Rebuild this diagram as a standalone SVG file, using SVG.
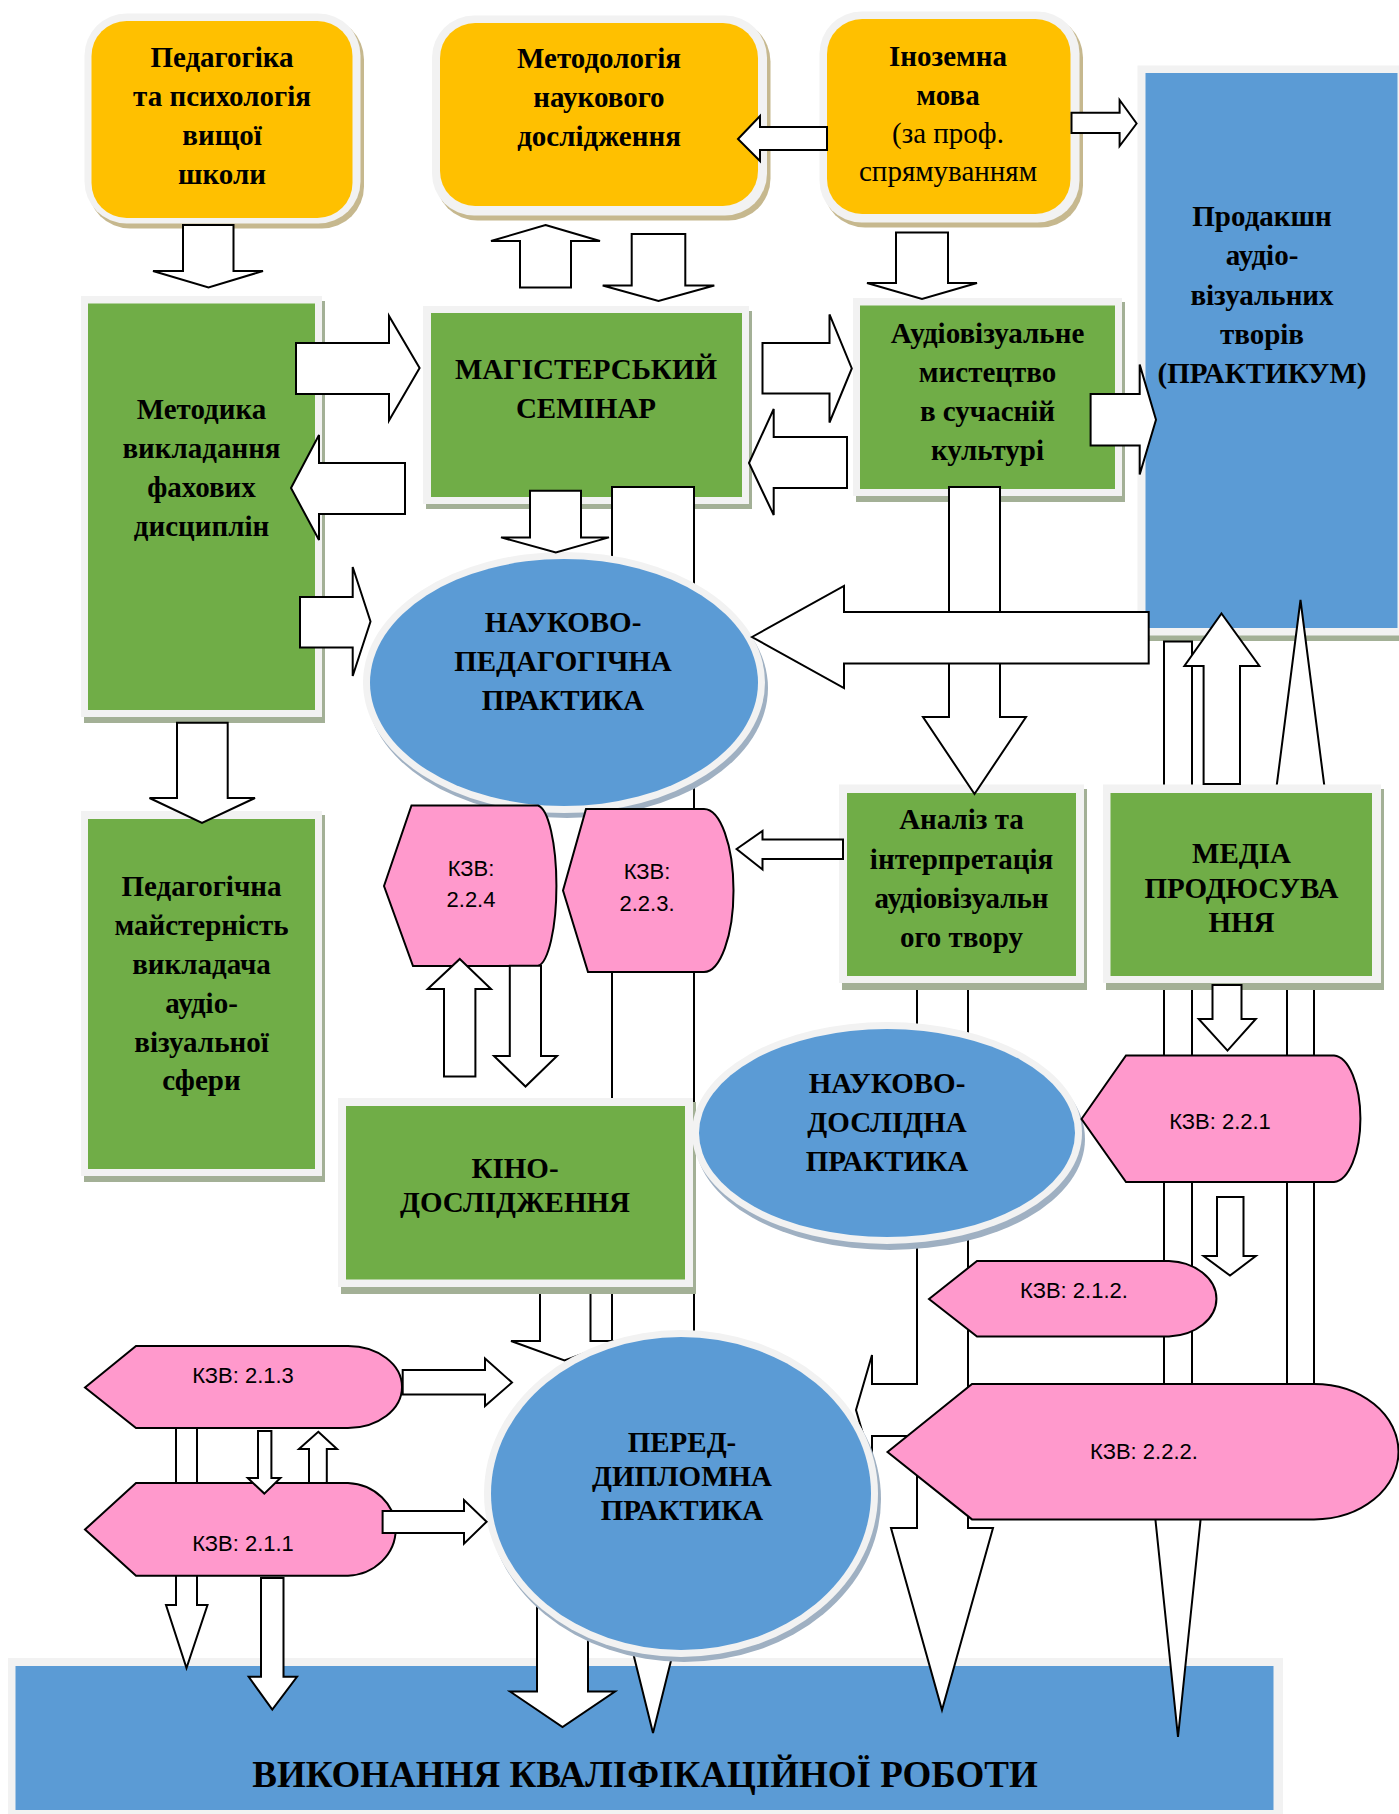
<svg xmlns="http://www.w3.org/2000/svg" width="1399" height="1814" viewBox="0 0 1399 1814">
<style>
.a{fill:#fff;stroke:#000;stroke-width:2;stroke-linejoin:miter}
.p{fill:#FF99CC;stroke:#000;stroke-width:2}
.t{font-family:"Liberation Serif","Times New Roman",serif;font-weight:bold;font-size:29px;text-anchor:middle;fill:#000}
.n{font-weight:normal}
.k{font-family:"Liberation Sans",Arial,sans-serif;font-size:22px;text-anchor:middle;fill:#000}
.or{fill:#FFC000}.orf{fill:#F2F2F2}.ors{fill:#C6B88E}
.gr{fill:#70AD47}.fr{fill:#F2F2F2}.gs{fill:#A3B096}
.bl{fill:#5B9BD5}.bs{fill:#9FB0C2}
</style>
<rect width="1399" height="1814" fill="#fff"/>

<g id="prodakshn">
<rect x="1141" y="69" width="258" height="572" class="gs"/>
<rect x="1137.5" y="65.5" width="261.5" height="570" class="fr"/>
<rect x="1145.5" y="73" width="252" height="555" class="bl"/>
<text class="t" x="1262"><tspan x="1262" y="226">Продакшн</tspan><tspan x="1262" y="265">аудіо-</tspan><tspan x="1262" y="304.5">візуальних</tspan><tspan x="1262" y="343.5">творів</tspan><tspan x="1262" y="383">(ПРАКТИКУМ)</tspan></text>
</g>

<g id="vykonannia">
<rect x="8" y="1658" width="1275" height="156" class="fr"/>
<rect x="15.5" y="1666" width="1258" height="144" class="bl"/>
<text class="t" x="645" y="1787" style="font-size:37px">ВИКОНАННЯ КВАЛІФІКАЦІЙНОЇ РОБОТИ</text>
</g>

<g id="pedagogika">
<rect x="88" y="17.5" width="276" height="211" rx="42" class="ors"/>
<rect x="84.5" y="13.5" width="276" height="210" rx="42" class="orf"/>
<rect x="91.5" y="21" width="261" height="197" rx="35" class="or"/>
<text class="t"><tspan x="222" y="67">Педагогіка</tspan><tspan x="222" y="106">та психологія</tspan><tspan x="222" y="145">вищої</tspan><tspan x="222" y="184">школи</tspan></text>
</g>

<g id="metodologiia">
<rect x="435.5" y="19.5" width="335" height="201" rx="42" class="ors"/>
<rect x="432" y="15.5" width="335" height="200" rx="42" class="orf"/>
<rect x="440" y="23" width="318" height="183" rx="35" class="or"/>
<text class="t"><tspan x="599" y="68">Методологія</tspan><tspan x="599" y="107">наукового</tspan><tspan x="599" y="146">дослідження</tspan></text>
</g>

<g id="inozemna">
<rect x="823" y="15.5" width="260" height="212" rx="42" class="ors"/>
<rect x="819.5" y="11.5" width="260" height="211" rx="42" class="orf"/>
<rect x="827" y="19" width="243.5" height="195" rx="35" class="or"/>
<text class="t"><tspan x="948" y="65.5">Іноземна</tspan><tspan x="948" y="104.5">мова</tspan><tspan class="n" x="948" y="143">(за проф.</tspan><tspan class="n" x="948" y="181">спрямуванням</tspan></text>
</g>

<g id="mag-seminar">
<rect x="426" y="311" width="326" height="198" class="gs"/>
<rect x="423" y="306" width="326" height="198" class="fr"/>
<rect x="431" y="313" width="311" height="184" class="gr"/>
<text class="t"><tspan x="586" y="379">МАГІСТЕРСЬКИЙ</tspan><tspan x="586" y="418">СЕМІНАР</tspan></text>
</g>

<g id="metodyka">
<rect x="84" y="301" width="241" height="422" class="gs"/>
<rect x="81" y="296" width="241" height="421" class="fr"/>
<rect x="88" y="303.5" width="227" height="406.5" class="gr"/>
<text class="t"><tspan x="201.5" y="418.5">Методика</tspan><tspan x="201.5" y="458">викладання</tspan><tspan x="201.5" y="497">фахових</tspan><tspan x="201.5" y="536">дисциплін</tspan></text>
</g>

<g id="audiovizualne">
<rect x="856" y="302" width="269" height="200" class="gs"/>
<rect x="853" y="298" width="269" height="198" class="fr"/>
<rect x="860" y="305.5" width="255" height="183.5" class="gr"/>
<text class="t"><tspan x="987.5" y="342.5">Аудіовізуальне</tspan><tspan x="987.5" y="382">мистецтво</tspan><tspan x="987.5" y="421">в сучасній</tspan><tspan x="987.5" y="460">культурі</tspan></text>
</g>

<g id="connectors-under">
<polygon class="a" points="612,487 694,487 694,1500 711,1500 653,1733 595,1500 612,1500"/>
<polygon class="a" points="1164,641.5 1192,641.5 1192,1400 1213,1400 1178,1737 1143,1400 1164,1400"/>
<polygon class="a" points="1287,1450 1314,1450 1314,873 1335.5,873 1300.5,600 1265.5,873 1287,873"/>
<polygon class="a" points="917,987 968,987 968,1528 993,1528 942,1710 891,1528 917,1528 917,1436 872,1436 872,1465 856,1410 872,1355 872,1384 917,1384"/>
<polygon class="a" points="537,1600 588,1600 588,1691.5 615,1691.5 562.5,1727 510,1691.5 537,1691.5"/>
<polygon class="a" points="540,1287 590.5,1287 590.5,1341 618,1341 564.5,1360.5 511,1341 540,1341"/>
<polygon class="a" points="176,1418 197,1418 197,1605 207.5,1605 186.5,1668 166,1605 176,1605"/>
</g>

<g id="nauk-ped">
<ellipse cx="567" cy="688" rx="201" ry="130" class="bs"/>
<ellipse cx="564" cy="682.5" rx="201" ry="130.5" class="fr"/>
<ellipse cx="564" cy="682.5" rx="194" ry="123.5" class="bl"/>
<text class="t"><tspan x="563" y="632">НАУКОВО-</tspan><tspan x="563" y="671">ПЕДАГОГІЧНА</tspan><tspan x="563" y="710">ПРАКТИКА</tspan></text>
</g>

<g id="ped-maisternist">
<rect x="84" y="815" width="241" height="367" class="gs"/>
<rect x="81" y="811" width="241" height="365" class="fr"/>
<rect x="88" y="819" width="227" height="350" class="gr"/>
<text class="t"><tspan x="201.5" y="896">Педагогічна</tspan><tspan x="201.5" y="935">майстерність</tspan><tspan x="201.5" y="974">викладача</tspan><tspan x="201.5" y="1013">аудіо-</tspan><tspan x="201.5" y="1051.5">візуальної</tspan><tspan x="201.5" y="1090">сфери</tspan></text>
</g>

<g id="analiz">
<rect x="842" y="789" width="245" height="201" class="gs"/>
<rect x="839" y="784.5" width="245" height="198.5" class="fr"/>
<rect x="847" y="793" width="229" height="183" class="gr"/>
<text class="t"><tspan x="961.5" y="829">Аналіз та</tspan><tspan x="961.5" y="868.5">інтерпретація</tspan><tspan x="961.5" y="907.5">аудіовізуальн</tspan><tspan x="961.5" y="946.5">ого твору</tspan></text>
</g>

<g id="media">
<rect x="1106" y="789" width="278" height="201" class="gs"/>
<rect x="1103" y="784.5" width="278" height="198.5" class="fr"/>
<rect x="1110.5" y="793" width="261.5" height="183" class="gr"/>
<text class="t"><tspan x="1241.5" y="863">МЕДІА</tspan><tspan x="1241.5" y="897.5">ПРОДЮСУВА</tspan><tspan x="1241.5" y="931.5">ННЯ</tspan></text>
</g>

<g id="kino">
<rect x="341" y="1102" width="355" height="192" class="gs"/>
<rect x="338" y="1098" width="355" height="189" class="fr"/>
<rect x="346" y="1106" width="339" height="173.5" class="gr"/>
<text class="t"><tspan x="515" y="1178">КІНО-</tspan><tspan x="515" y="1212">ДОСЛІДЖЕННЯ</tspan></text>
</g>

<g id="nauk-dosl">
<ellipse cx="890" cy="1139" rx="195" ry="111" class="bs"/>
<ellipse cx="887" cy="1133" rx="195" ry="111" class="fr"/>
<ellipse cx="887" cy="1133" rx="188" ry="104" class="bl"/>
<text class="t"><tspan x="887" y="1093">НАУКОВО-</tspan><tspan x="887" y="1132">ДОСЛІДНА</tspan><tspan x="887" y="1170.5">ПРАКТИКА</tspan></text>
</g>

<g id="pered-dyplomna">
<ellipse cx="684" cy="1499" rx="197" ry="163" class="bs"/>
<ellipse cx="681" cy="1493.5" rx="197" ry="163.5" class="fr"/>
<ellipse cx="681" cy="1493.5" rx="190" ry="156.5" class="bl"/>
<text class="t"><tspan x="682" y="1452">ПЕРЕД-</tspan><tspan x="682" y="1486">ДИПЛОМНА</tspan><tspan x="682" y="1520">ПРАКТИКА</tspan></text>
</g>

<g id="kzv-224">
<path class="p" d="M384,886 L411.5,805.5 L538,805.5 A20,80.5 0 0 1 538,966 L413,966 Z"/>
<text class="k"><tspan x="471" y="876">КЗВ:</tspan><tspan x="471" y="907">2.2.4</tspan></text>
</g>

<g id="kzv-223">
<path class="p" d="M563,890.5 L586,809 L704,809 A29.5,81.5 0 0 1 704,972 L588,972 Z"/>
<text class="k"><tspan x="647" y="879">КЗВ:</tspan><tspan x="647" y="910.5">2.2.3.</tspan></text>
</g>

<g id="kzv-221">
<path class="p" d="M1081.5,1119 L1126,1055.5 L1334,1055.5 A27.5,63.3 0 0 1 1334,1182 L1126,1182 Z"/>
<text class="k" x="1220" y="1129">КЗВ: 2.2.1</text>
</g>

<g id="kzv-212">
<path class="p" d="M929,1299 L977,1261 L1169,1261 A50,37.8 0 0 1 1169,1336.5 L977,1336.5 Z"/>
<text class="k" x="1074" y="1298">КЗВ: 2.1.2.</text>
</g>

<g id="kzv-222">
<path class="p" d="M887.5,1452 L972,1384 L1314,1384 A84.5,67.7 0 0 1 1314,1519.4 L972,1519.4 Z"/>
<text class="k" x="1144" y="1459">КЗВ: 2.2.2.</text>
</g>

<g id="kzv-213">
<path class="p" d="M85,1387.5 L136,1346 L348,1346 A54,41 0 0 1 348,1428 L136,1428 Z"/>
<text class="k" x="243" y="1382.5">КЗВ: 2.1.3</text>
</g>

<g id="kzv-211">
<path class="p" d="M85,1529.5 L136,1483 L348,1483 A50,46.4 0 0 1 348,1575.7 L136,1575.7 Z"/>
<text class="k" x="243" y="1551">КЗВ: 2.1.1</text>
</g>

<g id="connectors">
<polygon class="a" points="183,225 233.5,225 233.5,271 263,271 208.5,287.5 153,271 183,271"/>
<polygon class="a" points="545.5,225 600,241 571,241 571,287.5 520,287.5 520,241 491,241"/>
<polygon class="a" points="631.7,234 685.3,234 685.3,285.5 714.3,285.5 658.5,301 602.7,285.5 631.7,285.5"/>
<polygon class="a" points="738,139 760,116 760,127 827,127 827,150 760,150 760,161"/>
<polygon class="a" points="1071.5,112.7 1119.6,112.7 1119.6,100 1136.6,123.5 1119.6,146 1119.6,133 1071.5,133"/>
<polygon class="a" points="896,232.6 948,232.6 948,283 977,283 922,299 867,283 896,283"/>
<polygon class="a" points="296,343 389,343 389,316 419.6,368 389,420.5 389,394 296,394"/>
<polygon class="a" points="291,488 319,435 319,463 405,463 405,514 319,514 319,540"/>
<polygon class="a" points="300,597 352.7,597 352.7,567 370.5,621.5 352.7,676 352.7,647.5 300,647.5"/>
<polygon class="a" points="762.5,343 829.5,343 829.5,314.4 851.8,368.4 829.5,422.5 829.5,393.5 762.5,393.5"/>
<polygon class="a" points="749,463 773.7,409 773.7,437 847,437 847,488 773.7,488 773.7,515"/>
<polygon class="a" points="1090.6,394 1139.7,394 1139.7,364.6 1156,419.7 1139.7,474.5 1139.7,445.6 1090.6,445.6"/>
<polygon class="a" points="530,490.7 581,490.7 581,537.4 609,537.4 555.8,552.5 501,537.4 530,537.4"/>
<polygon class="a" points="949,487 1000,487 1000,717 1026,717 974.5,794 923,717 949,717"/>
<polygon class="a" points="752,637 844,586 844,612 1148.7,612 1148.7,663.6 844,663.6 844,688"/>
<polygon class="a" points="736.6,849 762.5,831 762.5,839.6 843,839.6 843,859 762.5,859 762.5,869.5"/>
<polygon class="a" points="1221.5,613.5 1259.4,666 1240,666 1240,784 1203.6,784 1203.6,666 1184.4,666"/>
<polygon class="a" points="1212.5,985 1241.5,985 1241.5,1019 1255.8,1019 1227.5,1050.6 1198.7,1019 1212.5,1019"/>
<polygon class="a" points="1217,1197 1243.5,1197 1243.5,1256 1255.8,1256 1230,1275.6 1203.6,1256 1217,1256"/>
<polygon class="a" points="177,722.7 227.7,722.7 227.7,798 255,798 202,823 149.5,798 177,798"/>
<polygon class="a" points="459.8,959 491,989 475.4,989 475.4,1076.5 444,1076.5 444,989 427.7,989"/>
<polygon class="a" points="509.8,965.7 541,965.7 541,1056 557,1056 525.5,1086.5 494,1056 509.8,1056"/>
<polygon class="a" points="402.7,1370 485,1370 485,1358.5 512,1382.5 485,1406 485,1394.4 402.7,1394.4"/>
<polygon class="a" points="382.6,1511 464,1511 464,1500 486.6,1521.7 464,1543.7 464,1533 382.6,1533"/>
<polygon class="a" points="258,1431 271.4,1431 271.4,1478 280.4,1478 264.3,1493.6 247.8,1478 258,1478"/>
<polygon class="a" points="318.3,1431.8 337,1449 326.8,1449 326.8,1483 309,1483 309,1449 299,1449"/>
<polygon class="a" points="261,1578 283.5,1578 283.5,1676.8 297,1676.8 272.3,1709.6 248.7,1676.8 261,1676.8"/>
</g>
</svg>
